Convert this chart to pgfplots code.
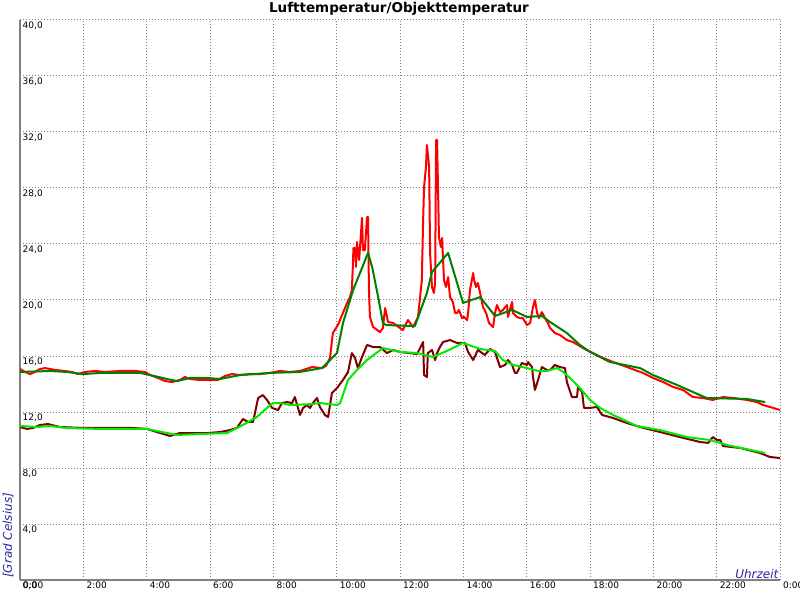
\documentclass[border=0pt]{standalone}
\usepackage{fontspec}
\setmainfont{DejaVu Sans}
\usepackage{pgfplots}
\pgfplotsset{compat=1.18}
\definecolor{gridgray}{RGB}{128,128,128}
\definecolor{axgray}{RGB}{128,128,128}
\definecolor{lblue}{RGB}{40,40,160}
\definecolor{dgreen}{RGB}{0,128,0}
\definecolor{maroonc}{RGB}{128,0,0}
\definecolor{lgreen}{RGB}{0,235,0}
\begin{document}
\begin{tikzpicture}[x=1pt,y=1pt]
\useasboundingbox[fill=white] (0,0) rectangle (800,600);
\begin{axis}[
  at={(20pt,20pt)}, anchor=south west,
  scale only axis, width=760pt, height=560pt,
  xmin=0, xmax=24, ymin=0, ymax=40,
  axis x line*=bottom, axis y line*=left,
  axis line style={draw=axgray, line width=2pt, -},
  xtick={0,2,...,24},
  xticklabels={0:00,2:00,4:00,6:00,8:00,10:00,12:00,14:00,16:00,18:00,20:00,22:00,0:00},
  ytick={0,4,...,40},
  yticklabels={{0,0},{4,0},{8,0},{12,0},{16,0},{20,0},{24,0},{28,0},{32,0},{36,0},{40,0}},
  major tick length=0pt,
  grid=major,
  major grid style={draw=gridgray, line width=1pt, dash pattern=on 1pt off 2pt},
  yticklabel style={anchor=north west, inner sep=1.5pt, xshift=1pt, font=\fontsize{9}{10}\selectfont, text=black},
  xticklabel style={anchor=north west, inner sep=1.5pt, xshift=1.5pt, font=\fontsize{9}{10}\selectfont, text=black},
  xlabel={Uhrzeit},
  xlabel style={at={(rel axis cs:1,0)}, anchor=south east, inner sep=1.5pt, font=\itshape\fontsize{12}{13}\selectfont, text=lblue},
  every axis plot/.append style={line width=2pt, line join=round},
]
% Lufttemperatur (red)
\addplot[red] coordinates {
(0,15.07)(0.16,14.86)(0.32,14.71)(0.47,14.86)(0.63,15.07)(0.79,15.14)(1.11,15.00)(1.42,14.93)(1.64,14.86)(1.83,14.71)
(2.05,14.86)(2.37,14.93)(2.68,14.86)(3.16,14.93)(3.63,14.93)(3.95,14.86)(4.11,14.64)(4.36,14.43)(4.58,14.21)(4.80,14.14)
(5.05,14.29)(5.21,14.50)(5.37,14.36)(5.68,14.29)(6.00,14.29)(6.25,14.29)(6.47,14.57)(6.69,14.71)(6.95,14.64)(7.26,14.71)
(7.58,14.71)(7.89,14.79)(8.21,14.93)(8.53,14.86)(8.84,14.93)(9.22,15.21)(9.54,15.14)(9.66,15.29)(9.79,15.86)(9.88,17.64)
(10.04,18.21)(10.17,18.93)(10.33,19.79)(10.42,20.21)(10.48,20.71)(10.51,22.36)(10.53,23.71)(10.58,23.71)(10.61,22.36)(10.64,24.14)
(10.71,22.86)(10.80,25.86)(10.83,23.57)(10.89,23.57)(10.96,25.93)(10.99,25.93)(11.02,20.71)(11.05,18.79)(11.15,18.07)(11.37,17.71)
(11.46,18.00)(11.53,19.43)(11.59,18.79)(11.62,18.43)(11.78,18.36)(12.00,18.00)(12.09,17.86)(12.25,18.57)(12.41,18.07)(12.57,18.79)
(12.69,21.43)(12.73,25.71)(12.76,28.07)(12.82,29.50)(12.85,31.07)(12.92,29.50)(12.95,23.36)(13.01,20.93)(13.07,20.50)(13.11,21.21)
(13.14,31.43)(13.17,31.43)(13.20,28.07)(13.23,24.50)(13.29,23.79)(13.33,24.43)(13.36,22.86)(13.39,21.43)(13.45,20.93)(13.52,21.64)
(13.58,20.21)(13.67,19.86)(13.74,19.07)(13.80,19.07)(13.86,19.29)(13.96,18.71)(14.02,18.79)(14.12,18.57)(14.15,19.07)(14.21,20.71)
(14.31,21.93)(14.34,21.43)(14.40,20.93)(14.46,21.21)(14.53,20.50)(14.62,19.50)(14.72,19.07)(14.81,18.36)(14.94,18.07)(15.00,19.07)
(15.06,19.64)(15.16,19.14)(15.25,19.29)(15.38,19.64)(15.41,18.79)(15.54,19.86)(15.57,19.07)(15.69,18.79)(15.79,18.71)(15.88,18.71)
(16.01,18.21)(16.11,18.36)(16.20,19.50)(16.26,20.00)(16.33,19.07)(16.39,18.71)(16.48,19.14)(16.58,18.71)(16.67,18.36)(16.74,18.00)
(16.89,17.64)(17.05,17.50)(17.27,17.14)(17.46,17.00)(17.78,16.57)(18.09,16.21)(18.41,15.86)(18.73,15.57)(19.17,15.21)(19.67,14.79)
(19.99,14.43)(20.31,14.14)(20.62,13.79)(20.94,13.57)(21.25,13.07)(21.57,13.00)(21.88,12.86)(22.20,13.07)(22.52,13.00)(22.96,12.86)
(23.27,12.71)(23.46,12.50)(23.68,12.36)(23.90,12.21)(24.00,12.14)
};
% smoothed air temperature (dark green)
\addplot[dgreen] coordinates {
(0,14.86)(0.95,14.93)(1.48,14.86)(1.99,14.71)(2.53,14.79)(3.79,14.79)(4.11,14.64)(4.64,14.36)(4.96,14.21)(5.37,14.43)
(5.91,14.43)(6.32,14.36)(6.95,14.64)(7.89,14.79)(8.84,14.86)(9.54,15.14)(10.01,16.21)(10.20,18.36)(10.52,20.71)(10.80,22.29)
(10.99,23.36)(11.12,22.36)(11.31,20.21)(11.46,18.36)(11.56,18.21)(12.47,18.14)(12.85,20.50)(13.01,22.00)(13.52,23.36)(13.99,19.79)
(14.53,20.21)(15.00,18.86)(15.54,19.29)(16.01,18.79)(16.48,18.86)(16.74,18.43)(17.27,17.64)(17.68,16.79)(18.00,16.29)(18.63,15.57)
(19.58,15.14)(19.99,14.64)(20.75,13.93)(21.47,13.21)(21.69,13.00)(22.96,12.93)(23.53,12.71)
};
% Objekttemperatur (maroon)
\addplot[maroonc] coordinates {
(0,10.93)(0.22,10.79)(0.41,10.86)(0.63,11.07)(0.88,11.14)(1.26,10.93)(1.99,10.86)(3.57,10.86)(4.01,10.79)(4.42,10.50)
(4.74,10.29)(5.05,10.50)(5.37,10.50)(5.91,10.50)(6.32,10.57)(6.63,10.71)(6.85,10.86)(7.04,11.50)(7.20,11.29)(7.36,11.29)
(7.52,13.00)(7.67,13.21)(7.80,12.86)(7.96,12.29)(8.15,12.14)(8.27,12.64)(8.43,12.71)(8.59,12.64)(8.68,13.07)(8.78,12.29)
(8.84,11.79)(8.94,12.29)(9.06,12.50)(9.16,12.29)(9.25,12.64)(9.38,13.00)(9.47,12.36)(9.63,11.79)(9.73,11.64)(9.85,13.36)
(10.01,13.71)(10.20,14.29)(10.36,14.86)(10.48,16.21)(10.58,15.86)(10.67,15.14)(10.80,15.93)(10.96,16.79)(11.15,16.64)(11.37,16.64)
(11.59,16.21)(11.78,16.43)(12.00,16.29)(12.54,16.14)(12.73,17.00)(12.76,14.64)(12.85,14.50)(12.88,16.21)(13.01,16.43)(13.11,15.71)
(13.17,16.21)(13.26,16.64)(13.36,17.00)(13.58,17.14)(13.80,16.93)(14.05,16.93)(14.15,16.29)(14.31,15.71)(14.46,16.43)(14.68,16.07)
(14.84,16.50)(15.00,16.29)(15.16,15.21)(15.32,15.36)(15.41,15.71)(15.54,15.36)(15.63,14.79)(15.69,14.79)(15.85,15.50)(16.01,15.36)
(16.04,15.57)(16.17,15.21)(16.20,14.50)(16.26,13.57)(16.36,14.29)(16.48,15.21)(16.64,15.00)(16.74,15.00)(16.89,15.36)(17.05,15.21)
(17.21,15.14)(17.27,14.14)(17.43,13.07)(17.59,13.07)(17.62,13.79)(17.75,13.43)(17.81,12.29)(18.00,12.29)(18.22,12.36)(18.38,11.79)
(18.73,11.57)(19.17,11.21)(19.58,10.93)(20.21,10.57)(20.84,10.21)(21.47,9.86)(21.73,9.79)(21.88,10.21)(22.01,10.00)(22.11,10.00)
(22.20,9.57)(22.74,9.43)(23.37,9.07)(23.68,8.79)(24.00,8.71)
};
% smoothed object temperature (light green)
\addplot[lgreen] coordinates {
(0,11.00)(0.54,10.93)(0.95,11.00)(1.48,10.86)(2.53,10.79)(4.01,10.79)(4.64,10.50)(4.96,10.36)(6.54,10.50)(7.04,11.07)
(7.48,11.64)(7.83,12.36)(7.99,12.64)(8.21,12.64)(8.53,12.50)(9.25,12.57)(9.47,12.64)(10.01,12.50)(10.11,12.64)(10.36,14.29)
(10.64,15.00)(10.96,15.71)(11.46,16.57)(12.00,16.29)(12.54,16.21)(13.04,15.93)(13.48,16.36)(13.99,16.93)(14.53,16.50)(15.00,16.36)
(15.25,15.71)(15.57,15.36)(15.88,15.21)(16.36,14.93)(16.64,14.93)(16.96,15.14)(17.15,14.86)(17.37,14.43)(17.68,13.71)(18.00,12.86)
(18.32,12.29)(18.73,11.79)(19.48,11.00)(20.21,10.71)(21.06,10.21)(21.79,10.00)(22.33,9.64)(23.53,9.07)
};
\end{axis}
\node[anchor=base, font=\bfseries\fontsize{13.5}{15}\selectfont] at (399,587) {Lufttemperatur/Objekttemperatur};
\node[rotate=90, anchor=west, inner sep=0pt, font=\itshape\fontsize{12}{13}\selectfont, text=lblue] at (8,22) {[Grad Celsius]};
\end{tikzpicture}
\end{document}
